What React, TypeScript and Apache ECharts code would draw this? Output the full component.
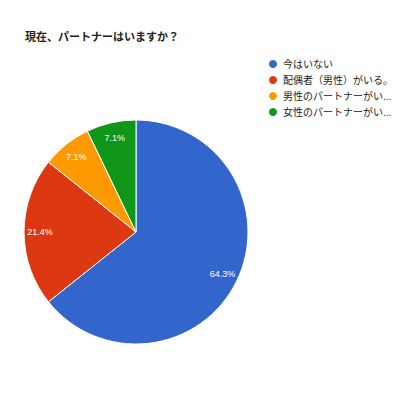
import { useEffect, useRef } from "react";
import * as echarts from "echarts";

const titleText = "現在、パートナーはいますか？";
const categories = [
  "今はいない",
  "配偶者（男性）がいる。",
  "男性のパートナーがい...",
  "女性のパートナーがい...",
];
const counts = [9, 3, 1, 1];
const colors = ["#3366cc", "#dc3912", "#ff9900", "#109618"];

const fontFamily = "Arial, 'Liberation Sans', 'Noto Sans CJK JP', sans-serif";

export default function App() {
  const chartRef = useRef<HTMLDivElement>(null);

  useEffect(() => {
    document.body.style.margin = "0";
    if (!chartRef.current) return;
    const chart = echarts.init(chartRef.current, undefined, { renderer: "svg" });

    const data = categories.map((name, i) => ({
      name,
      value: counts[i],
      itemStyle: { color: colors[i] },
    }));
    const total = counts.reduce((a, b) => a + b, 0);

    chart.setOption({
      animation: false,
      backgroundColor: "#ffffff",
      textStyle: { fontFamily },
      title: {
        text: titleText,
        left: 20,
        top: 26,
        textStyle: { fontSize: 11, fontWeight: "bold", color: "#222", fontFamily },
      },
      legend: {
        orient: "vertical",
        left: 262,
        top: 53,
        icon: "circle",
        itemWidth: 10,
        itemHeight: 10,
        itemGap: 4,
        textStyle: { fontSize: 10, color: "#222", fontFamily },
        data: categories,
      },
      series: [
        {
          type: "pie",
          center: [136, 232],
          radius: [0, 112],
          startAngle: 90,
          clockwise: true,
          silent: true,
          label: { show: false },
          labelLine: { show: false },
          itemStyle: { borderColor: "#ffffff", borderWidth: 1 },
          data,
        },
        {
          type: "pie",
          center: [136, 232],
          radius: [74, 112],
          startAngle: 90,
          clockwise: true,
          silent: true,
          legendHoverLink: false,
          itemStyle: { color: "transparent", borderWidth: 0 },
          label: {
            show: true,
            position: "inside",
            color: "#ffffff",
            fontSize: 9,
            fontWeight: "normal",
            fontFamily,
            formatter: (p: any) => ((p.value / total) * 100).toFixed(1) + "%",
          },
          labelLine: { show: false },
          data: categories.map((name, i) => ({
            name: name + " ",
            value: counts[i],
          })),
        },
      ],
    });

    return () => {
      chart.dispose();
    };
  }, []);

  return <div ref={chartRef} style={{ width: "400px", height: "400px" }} />;
}
